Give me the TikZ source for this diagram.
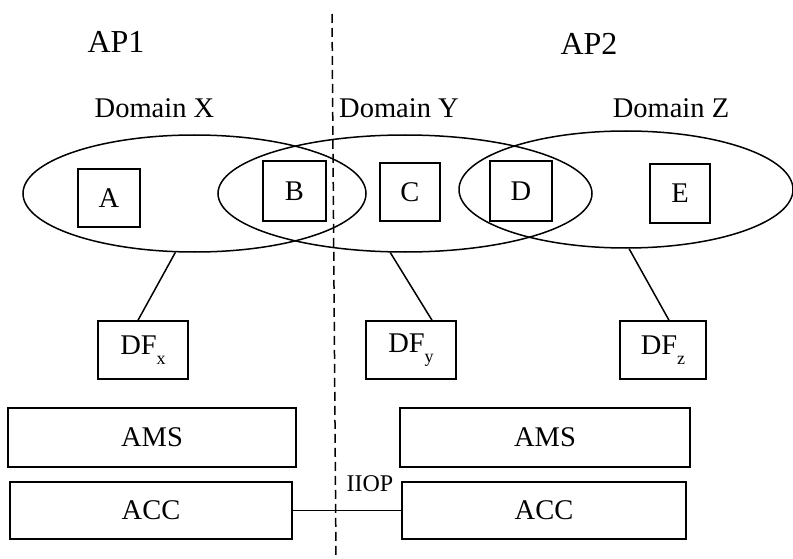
\documentclass[tikz,border=0pt]{standalone}
\usepackage{fontspec}
\setmainfont{Liberation Serif}
\usetikzlibrary{shapes.geometric}
\begin{document}
\begin{tikzpicture}[x=1pt,y=-1pt,
  lbl/.style={font=\fontsize{28.5}{30}\selectfont, inner sep=0},
  aplbl/.style={font=\fontsize{32}{34}\selectfont, inner sep=0},
  dom/.style={ellipse, draw, line width=1.5pt, inner sep=0},
  sq/.style={draw, line width=1.5pt, inner sep=0, font=\fontsize{28.5}{30}\selectfont},
  bar/.style={draw, line width=1.5pt, inner sep=0, font=\fontsize{28.5}{30}\selectfont},
  conn/.style={line width=1.5pt},
  sepline/.style={line width=1.5pt, dash pattern=on 9pt off 5pt}]
\useasboundingbox (0,0) rectangle (793,559);
% separator
\coordinate (s1) at (332,14);
\coordinate (s2) at (336,559);
\draw[sepline] (s1) -- (s2);
% titles
\node[aplbl] (ap1) at (116,42) {AP1};
\node[aplbl] (ap2) at (589,44) {AP2};
\node[lbl] (dx) at (154.5,108) {Domain X};
\node[lbl] (dy) at (399,108) {Domain Y};
\node[lbl] (dz) at (671,108) {Domain Z};
% domains
\node[dom, minimum width=343, minimum height=117] (ex) at (194.5,193.5) {};
\node[dom, minimum width=374, minimum height=117] (ey) at (405,193.5) {};
\node[dom, minimum width=334, minimum height=117] (ez) at (626,189.5) {};
% members
\node[sq, minimum width=62, minimum height=58] (a) at (109,198) {A};
\node[sq, minimum width=63, minimum height=60] (b) at (294.5,191) {B};
\node[sq, minimum width=60, minimum height=58] (c) at (410,192) {C};
\node[sq, minimum width=62, minimum height=60] (d) at (521,191) {D};
\node[sq, minimum width=60, minimum height=59] (e) at (680,193.5) {E};
% DF boxes
\newcommand{\dfsub}[1]{DF\raisebox{-10pt}{\fontsize{18}{18}\selectfont #1}}
\node[sq, minimum width=90, minimum height=58] (dfx) at (143,350) {\dfsub{x}};
\node[sq, minimum width=90, minimum height=58] (dfy) at (411,350) {\dfsub{y}};
\node[sq, minimum width=86, minimum height=58] (dfz) at (663,350) {\dfsub{z}};
\draw[conn] (ex.252) -- ([xshift=-5]dfx.north);
\draw[conn] (ey.256) -- ([xshift=21]dfy.north);
\draw[conn] (ez.273) -- ([xshift=6]dfz.north);
% AMS / ACC
\node[bar, minimum width=288, minimum height=59] (ams1) at (152,437.5) {AMS};
\node[bar, minimum width=290, minimum height=59] (ams2) at (545,437.5) {AMS};
\node[bar, minimum width=282, minimum height=57] (acc1) at (151,510.5) {ACC};
\node[bar, minimum width=284, minimum height=57] (acc2) at (544,510.5) {ACC};
\draw[conn] (acc1.east) -- (acc2.west);
\node[font=\fontsize{24}{26}\selectfont, inner sep=0] (iiop) at (370,484) {IIOP};
\end{tikzpicture}
\end{document}
